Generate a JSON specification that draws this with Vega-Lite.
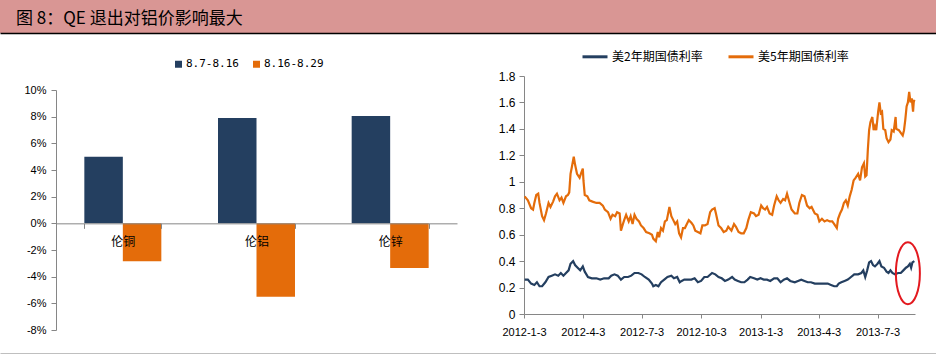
{
  "$schema": "https://vega.github.io/schema/vega-lite/v6.json",
  "padding": 0,
  "background": "white",
  "config": {"view": {"stroke": null}, "axis": {"labelColor": "#000"}},
  "datasets": {
    "y2": [
      {"date":"2012-01-04","rate":0.26},{"date":"2012-01-09","rate":0.26},{"date":"2012-01-14","rate":0.23},{"date":"2012-01-19","rate":0.22},{"date":"2012-01-23","rate":0.24},{"date":"2012-01-27","rate":0.21},{"date":"2012-01-31","rate":0.21},{"date":"2012-02-05","rate":0.24},{"date":"2012-02-10","rate":0.28},{"date":"2012-02-15","rate":0.29},{"date":"2012-02-20","rate":0.30},{"date":"2012-02-25","rate":0.29},{"date":"2012-02-29","rate":0.31},{"date":"2012-03-04","rate":0.29},{"date":"2012-03-08","rate":0.31},{"date":"2012-03-12","rate":0.33},{"date":"2012-03-15","rate":0.38},{"date":"2012-03-19","rate":0.40},{"date":"2012-03-22","rate":0.37},{"date":"2012-03-26","rate":0.35},{"date":"2012-03-30","rate":0.33},{"date":"2012-04-03","rate":0.36},{"date":"2012-04-06","rate":0.32},{"date":"2012-04-11","rate":0.28},{"date":"2012-04-17","rate":0.27},{"date":"2012-04-24","rate":0.27},{"date":"2012-04-30","rate":0.26},{"date":"2012-05-06","rate":0.27},{"date":"2012-05-13","rate":0.27},{"date":"2012-05-17","rate":0.29},{"date":"2012-05-22","rate":0.30},{"date":"2012-05-27","rate":0.29},{"date":"2012-06-01","rate":0.26},{"date":"2012-06-06","rate":0.28},{"date":"2012-06-12","rate":0.28},{"date":"2012-06-17","rate":0.29},{"date":"2012-06-22","rate":0.31},{"date":"2012-06-28","rate":0.31},{"date":"2012-07-03","rate":0.30},{"date":"2012-07-08","rate":0.28},{"date":"2012-07-14","rate":0.26},{"date":"2012-07-19","rate":0.23},{"date":"2012-07-21","rate":0.21},{"date":"2012-07-25","rate":0.22},{"date":"2012-07-29","rate":0.21},{"date":"2012-08-02","rate":0.24},{"date":"2012-08-07","rate":0.26},{"date":"2012-08-12","rate":0.28},{"date":"2012-08-18","rate":0.29},{"date":"2012-08-22","rate":0.27},{"date":"2012-08-27","rate":0.28},{"date":"2012-08-31","rate":0.24},{"date":"2012-09-03","rate":0.25},{"date":"2012-09-07","rate":0.26},{"date":"2012-09-12","rate":0.26},{"date":"2012-09-18","rate":0.26},{"date":"2012-09-23","rate":0.27},{"date":"2012-09-28","rate":0.24},{"date":"2012-10-03","rate":0.25},{"date":"2012-10-08","rate":0.28},{"date":"2012-10-13","rate":0.28},{"date":"2012-10-20","rate":0.31},{"date":"2012-10-25","rate":0.30},{"date":"2012-10-30","rate":0.28},{"date":"2012-11-04","rate":0.27},{"date":"2012-11-09","rate":0.25},{"date":"2012-11-14","rate":0.26},{"date":"2012-11-20","rate":0.28},{"date":"2012-11-24","rate":0.26},{"date":"2012-11-29","rate":0.25},{"date":"2012-12-04","rate":0.24},{"date":"2012-12-09","rate":0.24},{"date":"2012-12-14","rate":0.26},{"date":"2012-12-18","rate":0.28},{"date":"2012-12-24","rate":0.27},{"date":"2012-12-29","rate":0.26},{"date":"2013-01-03","rate":0.27},{"date":"2013-01-08","rate":0.26},{"date":"2013-01-13","rate":0.26},{"date":"2013-01-18","rate":0.25},{"date":"2013-01-24","rate":0.27},{"date":"2013-01-29","rate":0.27},{"date":"2013-02-03","rate":0.24},{"date":"2013-02-08","rate":0.26},{"date":"2013-02-13","rate":0.27},{"date":"2013-02-18","rate":0.25},{"date":"2013-02-25","rate":0.24},{"date":"2013-03-02","rate":0.25},{"date":"2013-03-07","rate":0.26},{"date":"2013-03-12","rate":0.25},{"date":"2013-03-17","rate":0.24},{"date":"2013-03-22","rate":0.24},{"date":"2013-03-28","rate":0.23},{"date":"2013-04-02","rate":0.23},{"date":"2013-04-07","rate":0.23},{"date":"2013-04-12","rate":0.23},{"date":"2013-04-17","rate":0.23},{"date":"2013-04-22","rate":0.22},{"date":"2013-04-27","rate":0.21},{"date":"2013-05-01","rate":0.21},{"date":"2013-05-04","rate":0.23},{"date":"2013-05-08","rate":0.24},{"date":"2013-05-13","rate":0.25},{"date":"2013-05-18","rate":0.26},{"date":"2013-05-23","rate":0.28},{"date":"2013-05-28","rate":0.30},{"date":"2013-06-03","rate":0.30},{"date":"2013-06-08","rate":0.31},{"date":"2013-06-11","rate":0.33},{"date":"2013-06-14","rate":0.28},{"date":"2013-06-17","rate":0.33},{"date":"2013-06-20","rate":0.39},{"date":"2013-06-23","rate":0.40},{"date":"2013-06-26","rate":0.37},{"date":"2013-06-29","rate":0.36},{"date":"2013-07-03","rate":0.38},{"date":"2013-07-06","rate":0.40},{"date":"2013-07-09","rate":0.36},{"date":"2013-07-13","rate":0.35},{"date":"2013-07-17","rate":0.32},{"date":"2013-07-20","rate":0.31},{"date":"2013-07-23","rate":0.33},{"date":"2013-07-26","rate":0.31},{"date":"2013-07-30","rate":0.30},{"date":"2013-08-04","rate":0.31},{"date":"2013-08-08","rate":0.31},{"date":"2013-08-12","rate":0.33},{"date":"2013-08-16","rate":0.35},{"date":"2013-08-19","rate":0.36},{"date":"2013-08-22","rate":0.38},{"date":"2013-08-24","rate":0.35},{"date":"2013-08-26","rate":0.39},{"date":"2013-08-29","rate":0.40}
    ],
    "y5": [
      {"date":"2012-01-04","rate":0.89},{"date":"2012-01-09","rate":0.86},{"date":"2012-01-14","rate":0.80},{"date":"2012-01-17","rate":0.79},{"date":"2012-01-19","rate":0.84},{"date":"2012-01-22","rate":0.90},{"date":"2012-01-25","rate":0.91},{"date":"2012-01-27","rate":0.84},{"date":"2012-01-31","rate":0.74},{"date":"2012-02-03","rate":0.71},{"date":"2012-02-06","rate":0.76},{"date":"2012-02-10","rate":0.84},{"date":"2012-02-13","rate":0.81},{"date":"2012-02-17","rate":0.85},{"date":"2012-02-20","rate":0.89},{"date":"2012-02-23","rate":0.91},{"date":"2012-02-27","rate":0.86},{"date":"2012-03-01","rate":0.88},{"date":"2012-03-04","rate":0.84},{"date":"2012-03-08","rate":0.89},{"date":"2012-03-11","rate":0.90},{"date":"2012-03-13","rate":0.92},{"date":"2012-03-15","rate":1.06},{"date":"2012-03-17","rate":1.11},{"date":"2012-03-20","rate":1.19},{"date":"2012-03-22","rate":1.13},{"date":"2012-03-25","rate":1.06},{"date":"2012-03-29","rate":1.03},{"date":"2012-03-31","rate":1.06},{"date":"2012-04-03","rate":1.10},{"date":"2012-04-04","rate":1.01},{"date":"2012-04-06","rate":0.90},{"date":"2012-04-10","rate":0.89},{"date":"2012-04-13","rate":0.86},{"date":"2012-04-18","rate":0.85},{"date":"2012-04-24","rate":0.84},{"date":"2012-04-29","rate":0.84},{"date":"2012-05-04","rate":0.82},{"date":"2012-05-07","rate":0.79},{"date":"2012-05-12","rate":0.77},{"date":"2012-05-16","rate":0.72},{"date":"2012-05-19","rate":0.75},{"date":"2012-05-23","rate":0.74},{"date":"2012-05-26","rate":0.77},{"date":"2012-05-30","rate":0.76},{"date":"2012-06-01","rate":0.63},{"date":"2012-06-04","rate":0.68},{"date":"2012-06-06","rate":0.71},{"date":"2012-06-09","rate":0.75},{"date":"2012-06-13","rate":0.70},{"date":"2012-06-16","rate":0.74},{"date":"2012-06-19","rate":0.68},{"date":"2012-06-22","rate":0.75},{"date":"2012-06-25","rate":0.72},{"date":"2012-06-29","rate":0.70},{"date":"2012-07-02","rate":0.67},{"date":"2012-07-06","rate":0.65},{"date":"2012-07-10","rate":0.62},{"date":"2012-07-15","rate":0.61},{"date":"2012-07-19","rate":0.60},{"date":"2012-07-21","rate":0.57},{"date":"2012-07-25","rate":0.55},{"date":"2012-07-28","rate":0.62},{"date":"2012-07-30","rate":0.58},{"date":"2012-08-02","rate":0.65},{"date":"2012-08-05","rate":0.63},{"date":"2012-08-08","rate":0.70},{"date":"2012-08-11","rate":0.71},{"date":"2012-08-15","rate":0.81},{"date":"2012-08-18","rate":0.74},{"date":"2012-08-21","rate":0.71},{"date":"2012-08-24","rate":0.68},{"date":"2012-08-27","rate":0.70},{"date":"2012-08-30","rate":0.61},{"date":"2012-09-02","rate":0.58},{"date":"2012-09-05","rate":0.65},{"date":"2012-09-08","rate":0.65},{"date":"2012-09-11","rate":0.68},{"date":"2012-09-14","rate":0.71},{"date":"2012-09-18","rate":0.69},{"date":"2012-09-21","rate":0.67},{"date":"2012-09-24","rate":0.63},{"date":"2012-09-28","rate":0.62},{"date":"2012-10-02","rate":0.61},{"date":"2012-10-05","rate":0.67},{"date":"2012-10-09","rate":0.67},{"date":"2012-10-13","rate":0.68},{"date":"2012-10-17","rate":0.77},{"date":"2012-10-20","rate":0.79},{"date":"2012-10-24","rate":0.80},{"date":"2012-10-26","rate":0.76},{"date":"2012-10-30","rate":0.67},{"date":"2012-11-03","rate":0.65},{"date":"2012-11-07","rate":0.62},{"date":"2012-11-11","rate":0.63},{"date":"2012-11-14","rate":0.66},{"date":"2012-11-19","rate":0.63},{"date":"2012-11-23","rate":0.68},{"date":"2012-11-26","rate":0.66},{"date":"2012-11-30","rate":0.62},{"date":"2012-12-04","rate":0.61},{"date":"2012-12-08","rate":0.61},{"date":"2012-12-12","rate":0.65},{"date":"2012-12-15","rate":0.71},{"date":"2012-12-19","rate":0.77},{"date":"2012-12-24","rate":0.76},{"date":"2012-12-27","rate":0.74},{"date":"2012-12-31","rate":0.75},{"date":"2013-01-04","rate":0.82},{"date":"2013-01-07","rate":0.80},{"date":"2013-01-10","rate":0.79},{"date":"2013-01-13","rate":0.81},{"date":"2013-01-17","rate":0.76},{"date":"2013-01-21","rate":0.75},{"date":"2013-01-24","rate":0.82},{"date":"2013-01-28","rate":0.89},{"date":"2013-01-31","rate":0.86},{"date":"2013-02-03","rate":0.84},{"date":"2013-02-07","rate":0.87},{"date":"2013-02-10","rate":0.86},{"date":"2013-02-13","rate":0.91},{"date":"2013-02-17","rate":0.84},{"date":"2013-02-20","rate":0.79},{"date":"2013-02-25","rate":0.76},{"date":"2013-03-01","rate":0.76},{"date":"2013-03-04","rate":0.84},{"date":"2013-03-08","rate":0.90},{"date":"2013-03-12","rate":0.89},{"date":"2013-03-16","rate":0.82},{"date":"2013-03-20","rate":0.80},{"date":"2013-03-23","rate":0.81},{"date":"2013-03-28","rate":0.76},{"date":"2013-04-01","rate":0.75},{"date":"2013-04-04","rate":0.70},{"date":"2013-04-08","rate":0.72},{"date":"2013-04-12","rate":0.70},{"date":"2013-04-16","rate":0.71},{"date":"2013-04-20","rate":0.70},{"date":"2013-04-24","rate":0.70},{"date":"2013-04-27","rate":0.68},{"date":"2013-05-01","rate":0.65},{"date":"2013-05-03","rate":0.72},{"date":"2013-05-06","rate":0.76},{"date":"2013-05-09","rate":0.79},{"date":"2013-05-12","rate":0.84},{"date":"2013-05-15","rate":0.86},{"date":"2013-05-18","rate":0.82},{"date":"2013-05-21","rate":0.89},{"date":"2013-05-24","rate":0.94},{"date":"2013-05-27","rate":1.01},{"date":"2013-05-30","rate":1.03},{"date":"2013-06-03","rate":1.06},{"date":"2013-06-06","rate":1.01},{"date":"2013-06-09","rate":1.11},{"date":"2013-06-12","rate":1.14},{"date":"2013-06-14","rate":1.04},{"date":"2013-06-16","rate":1.05},{"date":"2013-06-18","rate":1.24},{"date":"2013-06-20","rate":1.39},{"date":"2013-06-22","rate":1.45},{"date":"2013-06-25","rate":1.49},{"date":"2013-06-27","rate":1.39},{"date":"2013-06-29","rate":1.42},{"date":"2013-07-01","rate":1.39},{"date":"2013-07-04","rate":1.53},{"date":"2013-07-06","rate":1.60},{"date":"2013-07-08","rate":1.52},{"date":"2013-07-10","rate":1.53},{"date":"2013-07-12","rate":1.40},{"date":"2013-07-15","rate":1.39},{"date":"2013-07-17","rate":1.33},{"date":"2013-07-20","rate":1.30},{"date":"2013-07-23","rate":1.32},{"date":"2013-07-25","rate":1.39},{"date":"2013-07-28","rate":1.38},{"date":"2013-07-31","rate":1.49},{"date":"2013-08-01","rate":1.40},{"date":"2013-08-05","rate":1.39},{"date":"2013-08-08","rate":1.37},{"date":"2013-08-11","rate":1.35},{"date":"2013-08-13","rate":1.39},{"date":"2013-08-15","rate":1.47},{"date":"2013-08-17","rate":1.57},{"date":"2013-08-19","rate":1.60},{"date":"2013-08-21","rate":1.68},{"date":"2013-08-23","rate":1.60},{"date":"2013-08-25","rate":1.63},{"date":"2013-08-27","rate":1.53},{"date":"2013-08-28","rate":1.60},{"date":"2013-08-29","rate":1.62}
    ]
  },
  "vconcat": [
    {
      "width": 936,
      "height": 33,
      "view": {"fill": "#D99694", "stroke": null},
      "data": {"values": [{"title": "图 8：QE 退出对铝价影响最大", "pos": 0}]},
      "mark": {"type": "text", "align": "left", "baseline": "middle", "dx": 16, "dy": 2, "font": "Noto Sans CJK SC", "fontSize": 17, "color": "#000"},
      "encoding": {
        "x": {"field": "pos", "type": "quantitative", "scale": {"domain": [0, 1], "nice": false}, "axis": {"title": null, "labels": false, "ticks": false, "grid": false, "domainColor": "#000", "domainWidth": 1.5}},
        "text": {"field": "title"}
      }
    },
    {
      "hconcat": [
        {"width": 1, "height": 1, "data": {"values": [{}]}, "mark": {"type": "text", "text": ""}},
        {
          "vconcat": [
            {"width": 1, "height": 21.75, "data": {"values": [{}]}, "mark": {"type": "text", "text": ""}},
            {
              "width": 401,
              "height": 240,
              "data": {"values": [
                {"metal": "伦铜", "period": "8.7-8.16", "change": 0.050},
                {"metal": "伦铜", "period": "8.16-8.29", "change": -0.0285},
                {"metal": "伦铝", "period": "8.7-8.16", "change": 0.079},
                {"metal": "伦铝", "period": "8.16-8.29", "change": -0.055},
                {"metal": "伦锌", "period": "8.7-8.16", "change": 0.0805},
                {"metal": "伦锌", "period": "8.16-8.29", "change": -0.0335}
              ]},
              "mark": {"type": "bar"},
              "encoding": {
                "x": {"field": "metal", "type": "nominal", "sort": ["伦铜", "伦铝", "伦锌"],
                      "scale": {"paddingInner": 0.424, "paddingOuter": 0.212},
                      "axis": {"title": null, "orient": "bottom", "offset": -106.67, "labelAngle": 0, "tickBand": "extent", "tickSize": 5, "domainColor": "#868686", "tickColor": "#868686", "labelFont": "Noto Sans CJK SC", "labelFontSize": 12, "labelColor": "#000", "labelPadding": 8.5, "zindex": 1}},
                "xOffset": {"field": "period", "type": "nominal", "sort": ["8.7-8.16", "8.16-8.29"]},
                "y": {"field": "change", "type": "quantitative",
                      "scale": {"domain": [-0.08, 0.1], "nice": false},
                      "axis": {"title": null, "grid": false, "values": [-0.08, -0.06, -0.04, -0.02, 0, 0.02, 0.04, 0.06, 0.08, 0.1], "labelOverlap": false,
                               "labelExpr": "(datum.value < 0 ? '-' : '') + format(abs(datum.value) * 100, '.0f') + '%'",
                               "minExtent": 35, "maxExtent": 35,
                               "labelFont": "Liberation Sans", "labelFontSize": 11, "labelColor": "#000", "labelPadding": 5, "tickSize": 5, "domainColor": "#868686", "tickColor": "#868686"}},
                "color": {"field": "period", "type": "nominal",
                          "scale": {"domain": ["8.7-8.16", "8.16-8.29"], "range": ["#243F60", "#E46C0A"]},
                          "legend": {"orient": "none", "legendX": 117, "legendY": -31.5, "direction": "horizontal", "title": null, "padding": 0,
                                     "symbolType": "square", "symbolSize": 49, "symbolStrokeWidth": 0,
                                     "labelFont": "DejaVu Sans Mono", "labelFontSize": 11, "labelColor": "#000", "labelOffset": 2, "columnPadding": 12}}
              }
            }
          ],
          "spacing": 0,
          "resolve": {"scale": {"color": "independent"}, "legend": {"color": "independent"}}
        },
        {
          "vconcat": [
            {"width": 1, "height": 0.5, "data": {"values": [{}]}, "mark": {"type": "text", "text": ""}},
            {
              "width": 391,
              "height": 238,
              "encoding": {
                "x": {"field": "date", "type": "temporal",
                      "scale": {"type": "utc", "domain": [{"year": 2012, "month": 1, "date": 3, "utc": true}, {"year": 2013, "month": 8, "date": 30, "utc": true}]},
                      "axis": {"title": null, "grid": false, "labelExpr": "utcFormat(datum.value, '%Y-%-m-%-d')", "labelFlush": false, "labelOverlap": false,
                               "values": [{"year": 2012, "month": 1, "date": 3, "utc": true}, {"year": 2012, "month": 4, "date": 3, "utc": true}, {"year": 2012, "month": 7, "date": 3, "utc": true}, {"year": 2012, "month": 10, "date": 3, "utc": true}, {"year": 2013, "month": 1, "date": 3, "utc": true}, {"year": 2013, "month": 4, "date": 3, "utc": true}, {"year": 2013, "month": 7, "date": 3, "utc": true}],
                               "labelFont": "Liberation Sans", "labelFontSize": 11, "labelColor": "#000", "labelPadding": 8, "tickSize": 4, "domainColor": "#868686", "tickColor": "#868686"}},
                "y": {"field": "rate", "type": "quantitative",
                      "scale": {"domain": [0, 1.8], "nice": false},
                      "axis": {"title": null, "grid": false, "values": [0, 0.2, 0.4, 0.6, 0.8, 1, 1.2, 1.4, 1.6, 1.8], "labelOverlap": false, "labelExpr": "format(datum.value, '.1~f')",
                               "minExtent": 46.5, "maxExtent": 46.5,
                               "labelFont": "Liberation Sans", "labelFontSize": 12, "labelColor": "#000", "labelPadding": 4, "tickSize": 5, "domainColor": "#868686", "tickColor": "#868686"}}
              },
              "layer": [
                {
                  "data": {"name": "y2"},
                  "mark": {"type": "line", "strokeWidth": 2.2},
                  "encoding": {
                    "color": {"datum": "美2年期国债利率",
                              "scale": {"domain": ["美2年期国债利率", "美5年期国债利率"], "range": ["#243F60", "#E46C0A"]},
                              "legend": {"orient": "none", "legendX": 57, "legendY": -33.2, "direction": "horizontal", "title": null, "padding": 0,
                                         "symbolType": "stroke", "symbolSize": 625, "symbolStrokeWidth": 3,
                                         "labelFont": "Noto Sans CJK SC", "labelFontSize": 12, "labelColor": "#000", "labelOffset": 3, "columnPadding": 19}}
                  }
                },
                {
                  "data": {"name": "y5"},
                  "mark": {"type": "line", "strokeWidth": 2.2},
                  "encoding": {"color": {"datum": "美5年期国债利率"}}
                },
                {
                  "data": {"values": [{"date": "2013-08-19", "rate": 0.309}]},
                  "mark": {"type": "point", "shape": "M0,-1A0.387,1,0,1,1,0,1A0.387,1,0,1,1,0,-1Z", "size": 3844, "filled": false, "color": "#E3191F", "stroke": "#E3191F", "strokeWidth": 2, "opacity": 1}
                }
              ]
            }
          ],
          "spacing": 0,
          "resolve": {"scale": {"color": "independent"}, "legend": {"color": "independent"}}
        }
      ],
      "spacing": 20,
      "resolve": {"scale": {"color": "independent"}, "legend": {"color": "independent"}}
    },
    {
      "width": 936,
      "height": 17,
      "data": {"values": [{"pos": 0}]},
      "mark": {"type": "text", "text": ""},
      "encoding": {
        "x": {"field": "pos", "type": "quantitative", "scale": {"domain": [0, 1], "nice": false}, "axis": {"orient": "bottom", "title": null, "labels": false, "ticks": false, "grid": false, "domainColor": "#000", "domainWidth": 1.5}}
      }
    }
  ],
  "spacing": -3,
  "resolve": {"scale": {"color": "independent"}, "legend": {"color": "independent"}}
}
